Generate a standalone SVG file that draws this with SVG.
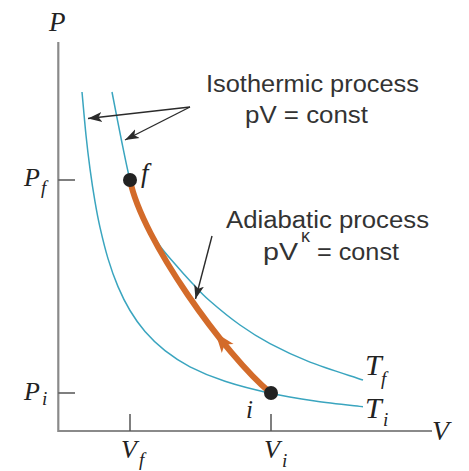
<svg xmlns="http://www.w3.org/2000/svg" width="469" height="471" viewBox="0 0 469 471">
<style>
.axis{stroke:#8a8a8a;stroke-width:2.2;fill:none}
.tick{stroke:#555;stroke-width:1.5;fill:none}
.iso{stroke:#3aa5bf;stroke-width:1.5;fill:none}
.adia{stroke:#d36b2a;stroke-width:6;fill:none;stroke-linecap:round}
.ptr{stroke:#2b2b2b;stroke-width:1.4;fill:none}
.dot{fill:#222}
.lbl{font-family:"Liberation Serif","Times New Roman",serif;font-style:italic;fill:#222}
.txt{font-family:"Liberation Sans",Arial,sans-serif;fill:#333;font-size:23px}
.sup{font-family:"Liberation Sans",Arial,sans-serif;fill:#333;font-size:18px}
</style>
<defs>
<marker id="ah" markerUnits="userSpaceOnUse" markerWidth="16" markerHeight="12" refX="14" refY="5" orient="auto" viewBox="0 0 16 10">
<path d="M0,0 L14,5 L0,10 L3.5,5 z" fill="#2b2b2b"/>
</marker>
</defs>
<rect width="469" height="471" fill="#fff"/>
<g id="axes">
<path class="axis" d="M58.3,42 V431 H432"/>
<path class="tick" d="M58.3,180 H75 M58.3,393 H75 M130,414 V431 M271,414 V431"/>
</g>
<g id="axis-labels">
<text class="lbl" x="49" y="31" font-size="27">P</text>
<text class="lbl" x="24" y="186" font-size="26">P</text>
<text class="lbl" x="41" y="194" font-size="19">f</text>
<text class="lbl" x="24" y="400" font-size="26">P</text>
<text class="lbl" x="42" y="405" font-size="19">i</text>
<text class="lbl" x="121" y="458" font-size="26">V</text>
<text class="lbl" x="139" y="466" font-size="19">f</text>
<text class="lbl" x="264" y="458" font-size="26">V</text>
<text class="lbl" x="282" y="467" font-size="19">i</text>
<text class="lbl" x="432" y="440" font-size="28">V</text>
</g>
<g id="isotherm-Tf">
<path class="iso" d="M112,92 C113.5,99.7 118,123.3 121,138 C124,152.7 127.2,169.3 130,180 C132.8,190.7 135.2,194.7 138,202 C140.8,209.3 143.3,216.7 147,224 C150.7,231.3 155.3,239.3 160,246 C164.7,252.7 169.7,257.8 175,264 C180.3,270.2 186.2,276.8 192,283 C197.8,289.2 202,294 210,301 C218,308 230,317.9 240,325 C250,332.1 258.3,337.4 270,343.6 C281.7,349.8 294.5,356 310,362.1 C325.5,368.2 354.2,376.9 363,380"/>
<text class="lbl" x="365" y="375" font-size="30">T</text>
<text class="lbl" x="381" y="385" font-size="19">f</text>
</g>
<g id="isotherm-Ti">
<path class="iso" d="M82,92 C82.67,99.2 84.67,122.4 86,135.25 C87.33,148.1 88.5,157.8 90,168.9 C91.5,180 93.33,192 95,201.7 C96.67,211.45 97.83,217.9 100,227.4 C102.17,236.9 105,248.7 108,258.6 C111,268.5 114.33,278 118,286.6 C121.67,295.25 125.5,303 130,310.5 C134.5,318 139.17,324.8 145,331.5 C150.83,338.2 157.5,344.8 165,350.7 C172.5,356.6 180,361.7 190,366.8 C200,371.9 211.67,376.9 225,381.3 C238.33,385.7 255,389.9 270,393.15 C285,396.4 299.5,398.65 315,400.9 C330.5,403.15 355,405.7 363,406.65"/>
<text class="lbl" x="365" y="418" font-size="30">T</text>
<text class="lbl" x="383" y="426" font-size="19">i</text>
</g>
<g id="adiabat">
<path class="adia" d="M270.7,393 C225,355 142,240 130,180"/>
<polygon points="215.4,332.7 233.6,343.9 224.6,344.5 221.8,353.1" fill="#d36b2a"/>
</g>
<g id="point-f">
<circle class="dot" cx="130" cy="180" r="7"/>
<text class="lbl" x="141" y="182" font-size="27">f</text>
</g>
<g id="point-i">
<circle class="dot" cx="271" cy="393" r="7"/>
<text class="lbl" x="246" y="418" font-size="25">i</text>
</g>
<g id="label-isothermic">
<text class="txt" x="206" y="91.7" textLength="213" lengthAdjust="spacingAndGlyphs">Isothermic process</text>
<text class="txt" x="245" y="123" textLength="123" lengthAdjust="spacingAndGlyphs">pV = const</text>
</g>
<g id="label-adiabatic">
<text class="txt" x="226" y="227.5" textLength="203" lengthAdjust="spacingAndGlyphs">Adiabatic process</text>
<text class="txt" x="263" y="260" textLength="35" lengthAdjust="spacingAndGlyphs">pV</text>
<text class="sup" x="301" y="242">κ</text>
<text class="txt" x="317" y="260" textLength="82" lengthAdjust="spacingAndGlyphs">= const</text>
</g>
<g id="connectors">
<path class="ptr" d="M190,107 L88,118.5" marker-end="url(#ah)"/>
<path class="ptr" d="M190,107 L125,140" marker-end="url(#ah)"/>
<path class="ptr" d="M212,236 L195.5,299" marker-end="url(#ah)"/>
</g>
</svg>
